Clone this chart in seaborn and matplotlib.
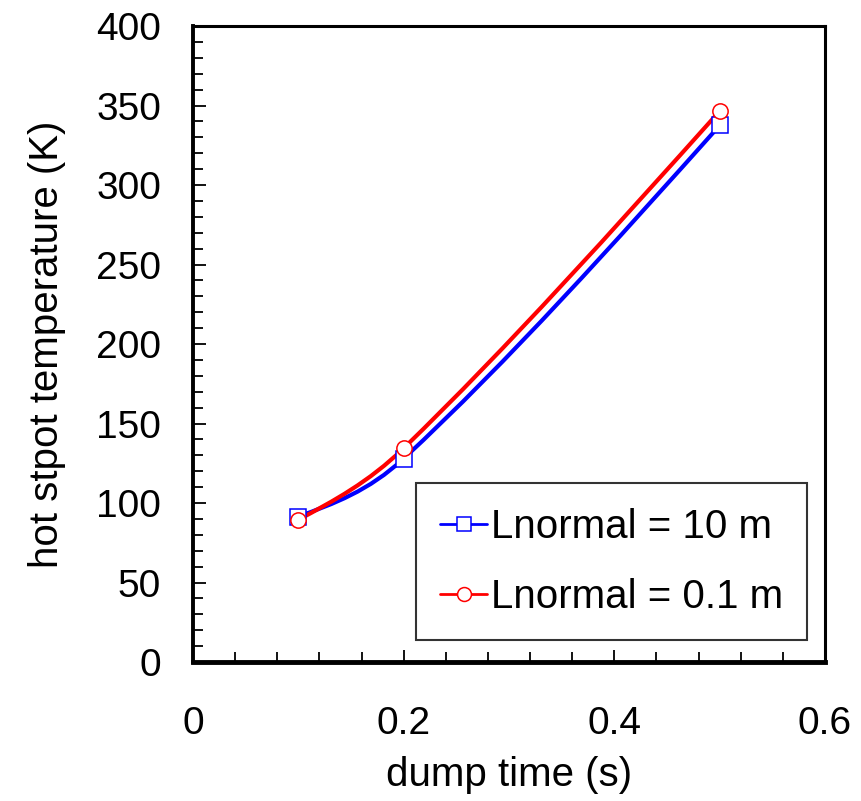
import numpy as np
import pandas as pd
import seaborn as sns
import matplotlib.pyplot as plt
from matplotlib.path import Path
from matplotlib.patches import PathPatch
from matplotlib.lines import Line2D
from matplotlib.ticker import MultipleLocator, FuncFormatter

# Data
dump_time = [0.1, 0.2, 0.5]
temp_10m = [91.5, 128.0, 337.5]
temp_01m = [89.5, 134.5, 346.5]
labels = ["Lnormal = 10 m", "Lnormal = 0.1 m"]
colors = ["#0000ff", "#ff0000"]
markers = ["s", "o"]

df = pd.DataFrame({
    "dump time (s)": dump_time * 2,
    "T": temp_10m + temp_01m,
    "series": [labels[0]] * 3 + [labels[1]] * 3,
})

sns.set_style("ticks")
plt.rcParams["font.family"] = ["Liberation Sans", "DejaVu Sans"]
plt.rcParams["text.color"] = "black"
plt.rcParams["axes.labelcolor"] = "black"
plt.rcParams["xtick.color"] = "black"
plt.rcParams["ytick.color"] = "black"

fig = plt.figure(figsize=(8.61, 8.01), dpi=100)
ax = fig.add_axes([0.2242, 0.1735, 0.734, 0.794])


def smooth_path(xs, ys):
    # smoothed line like the spreadsheet one: cubic Hermite through the points
    xs = np.asarray(xs, float)
    ys = np.asarray(ys, float)
    n = len(xs)
    sec = np.diff(ys) / np.diff(xs)
    m = np.zeros(n)
    m[1:-1] = (ys[2:] - ys[:-2]) / (xs[2:] - xs[:-2])
    m[0] = (3 * sec[0] - m[1]) / 2
    m[-1] = (3 * sec[-1] - m[-2]) / 2
    verts = [(xs[0], ys[0])]
    codes = [Path.MOVETO]
    for i in range(n - 1):
        h = (xs[i + 1] - xs[i]) / 3
        verts += [(xs[i] + h, ys[i] + m[i] * h),
                  (xs[i + 1] - h, ys[i + 1] - m[i + 1] * h),
                  (xs[i + 1], ys[i + 1])]
        codes += [Path.CURVE4] * 3
    return Path(verts, codes)


handles = []
for lab, col, mk in zip(labels, colors, markers):
    sub = df[df["series"] == lab]
    ax.add_patch(PathPatch(smooth_path(sub["dump time (s)"], sub["T"]),
                           facecolor="none", edgecolor=col, lw=3, zorder=2))
    sns.lineplot(data=sub, x="dump time (s)", y="T", ax=ax, color=col,
                 marker=mk, markersize=11, markerfacecolor="white",
                 markeredgecolor=col, markeredgewidth=1.1, linestyle="none",
                 zorder=3, legend=False)
    handles.append(Line2D([], [], color=col, lw=2, marker=mk, markersize=10,
                          markerfacecolor="white", markeredgecolor=col,
                          markeredgewidth=1.1))

ax.set_xlim(0, 0.6)
ax.set_ylim(0, 400)
ax.xaxis.set_major_locator(MultipleLocator(0.2))
ax.xaxis.set_minor_locator(MultipleLocator(0.04))
ax.yaxis.set_major_locator(MultipleLocator(50))
ax.yaxis.set_minor_locator(MultipleLocator(10))
ax.xaxis.set_major_formatter(FuncFormatter(lambda v, p: "0" if abs(v) < 1e-9 else f"{v:.1f}"))

ax.tick_params(which="both", direction="in", length=7, width=1.3, color="black",
               top=False, right=False)
ax.tick_params(which="major", length=9)
ax.tick_params(axis="x", labelsize=28, pad=32)
ax.tick_params(axis="y", labelsize=28, pad=23)

for side, w in [("left", 2.8), ("bottom", 3.5), ("top", 2.2), ("right", 2.2)]:
    ax.spines[side].set_linewidth(w)
    ax.spines[side].set_color("black")

ax.set_xlabel("dump time (s)", fontsize=29, labelpad=10)
ax.set_ylabel("hot stpot temperature (K)", fontsize=29, labelpad=22)

leg = ax.legend(handles, labels, loc="lower right", bbox_to_anchor=(0.9715, 0.0346),
                borderaxespad=0, fontsize=29, frameon=True, fancybox=False,
                handlelength=1.15, handletextpad=0.1, labelspacing=0.8,
                borderpad=0.6)
leg.get_frame().set_edgecolor("black")
leg.get_frame().set_linewidth(1.5)

fig.savefig("out.png", dpi=100, facecolor="white")
